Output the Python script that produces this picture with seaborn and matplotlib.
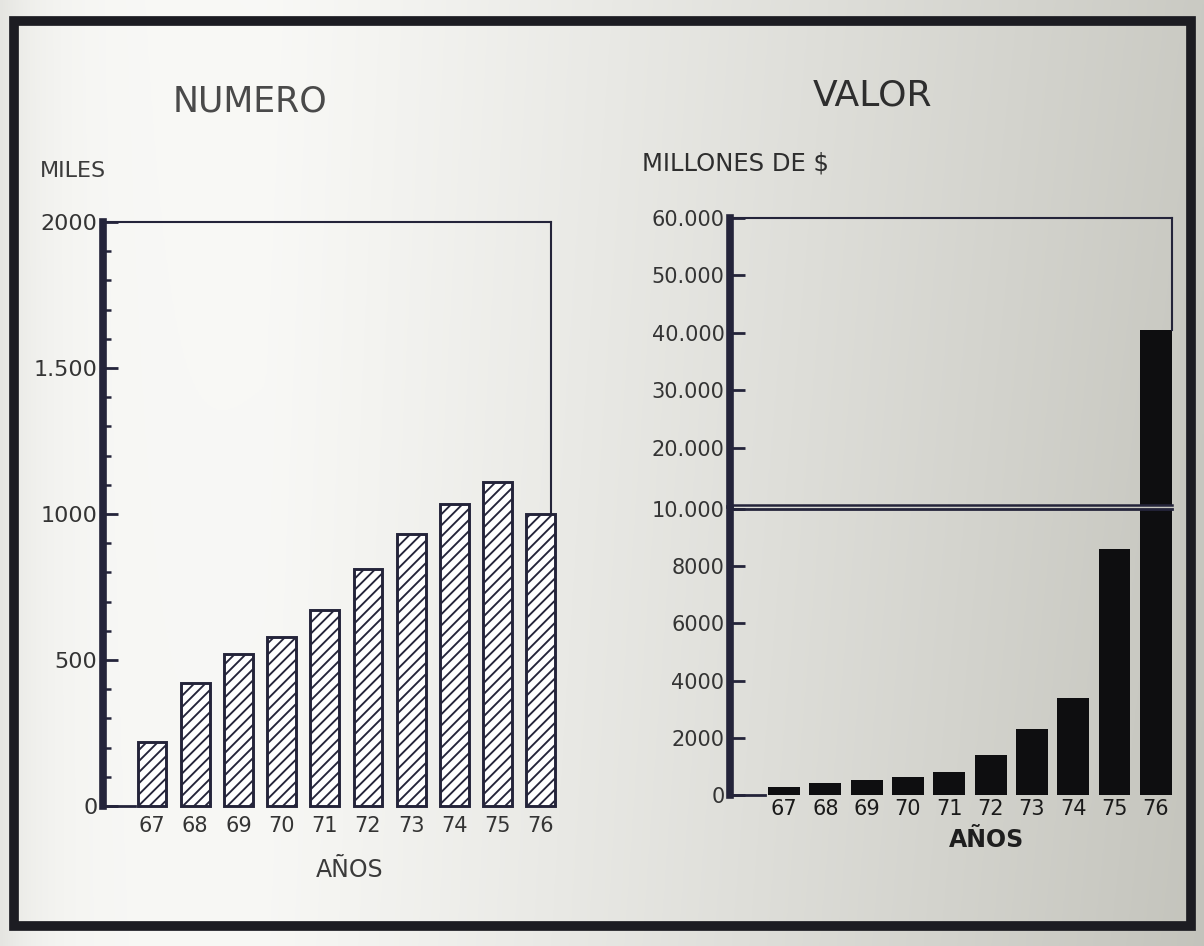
import numpy as np
import pandas as pd
import matplotlib
matplotlib.use("Agg")
import matplotlib.pyplot as plt
import seaborn as sns
from matplotlib.patches import Rectangle
from matplotlib.ticker import FixedLocator, MultipleLocator, NullLocator

# Años 1967-1976
years = ["67", "68", "69", "70", "71", "72", "73", "74", "75", "76"]
# Número (miles)
numero_miles = [220, 420, 520, 580, 670, 810, 930, 1035, 1110, 1000]
# Valor (millones de $)
valor_millones = [280, 420, 530, 640, 820, 1400, 2300, 3400, 8600, 40500]

left_ticks = [0, 500, 1000, 1500, 2000]
left_ticklabels = ["0", "500", "1000", "1.500", "2000"]
upper_ticks = [20000, 30000, 40000, 50000, 60000]
upper_ticklabels = ["20.000", "30.000", "40.000", "50.000", "60.000"]
lower_ticks = [0, 2000, 4000, 6000, 8000, 10000]
lower_ticklabels = ["0", "2000", "4000", "6000", "8000", "10.000"]

df = pd.DataFrame({"anio": years, "numero": numero_miles, "valor": valor_millones})

sns.set_theme(style="white")
plt.rcParams["font.family"] = ["DejaVu Sans"]
plt.rcParams["hatch.linewidth"] = 1.35

INK = "#24243a"
TEXT = "#343434"
W, H = 1204, 946

fig = plt.figure(figsize=(W / 100, H / 100), dpi=100)


def box(x0, y0, x1, y1):
    return [x0 / W, 1 - y1 / H, (x1 - x0) / W, (y1 - y0) / H]


# paper background: white on the left, greyer towards the right
bg = fig.add_axes([0, 0, 1, 1], zorder=-10)
gx, gy = np.meshgrid(np.linspace(0, 1, 400), np.linspace(0, 1, 320))
t = 0.85 * np.clip((gx - 0.22) / 0.78, 0, 1) ** 1.1 + 0.12 * gy * gx
t += 0.35 * np.exp(-gx / 0.035)
t = np.clip(t, 0, 1)
light = np.array([0.975, 0.975, 0.965])
dark = np.array([0.76, 0.76, 0.73])
img = light[None, None, :] * (1 - t[..., None]) + dark[None, None, :] * t[..., None]
bg.imshow(img, extent=[0, 1, 0, 1], aspect="auto", origin="upper")
bg.set_axis_off()

# page frame
fig.add_artist(Rectangle((14 / W, 1 - 926 / H), (1191 - 14) / W, (926 - 21) / H,
                         transform=fig.transFigure, fill=False, lw=7,
                         ec="#1c1c22", zorder=5))

# ---------------- NUMERO ----------------
axL = fig.add_axes(box(103, 222, 551, 806))
axL.patch.set_alpha(0)
sns.barplot(data=df, x="anio", y="numero", ax=axL, color="white", width=0.67,
            saturation=1, edgecolor=INK, linewidth=2.1)
for p in axL.patches:
    p.set_hatch("///")
    p.set_clip_on(False)
axL.set_xlim(-1.134, 9.236)
axL.set_ylim(0, 2000)
axL.set_xlabel("")
axL.set_ylabel("")
axL.spines["left"].set_linewidth(5.5)
axL.spines["left"].set_color(INK)
for s in ("top", "right"):
    axL.spines[s].set_linewidth(1.5)
    axL.spines[s].set_color(INK)
axL.spines["right"].set_bounds(numero_miles[-1], 2000)
axL.spines["bottom"].set_linewidth(2)
axL.spines["bottom"].set_color(INK)
axL.spines["bottom"].set_bounds(-1.134, -0.4)
axL.yaxis.set_major_locator(FixedLocator(left_ticks))
axL.set_yticklabels(left_ticklabels)
axL.yaxis.set_minor_locator(MultipleLocator(100))
axL.tick_params(axis="y", which="major", direction="in", length=10.5, width=2,
                color=INK, pad=4, labelsize=16, labelcolor=TEXT, left=True)
axL.tick_params(axis="y", which="minor", direction="in", length=6, width=1.8,
                color=INK, left=True)
axL.tick_params(axis="x", length=0, pad=7, labelsize=15, labelcolor=TEXT)

# ---------------- VALOR (eje cortado) ----------------
axU = fig.add_axes(box(730, 218, 1172, 505))
axB = fig.add_axes(box(730, 509, 1172, 795))
for ax in (axU, axB):
    ax.patch.set_alpha(0)
    sns.barplot(data=df, x="anio", y="valor", ax=ax, color="#0e0e10", width=0.77,
                saturation=1, linewidth=0)
    ax.set_xlim(-1.307, 9.39)
    ax.set_xlabel("")
    ax.set_ylabel("")
    ax.spines["left"].set_linewidth(5.5)
    ax.spines["left"].set_color(INK)
    for s in ("top", "right", "bottom"):
        ax.spines[s].set_color(INK)

axU.set_ylim(10000, 60000)
axU.spines["top"].set_linewidth(1.5)
axU.spines["right"].set_linewidth(1.5)
axU.spines["right"].set_bounds(valor_millones[-1], 60000)
axU.spines["bottom"].set_linewidth(1.8)
axU.yaxis.set_major_locator(FixedLocator(upper_ticks))
axU.set_yticklabels(upper_ticklabels)
axU.xaxis.set_major_locator(NullLocator())
axU.tick_params(axis="y", direction="in", length=10.5, width=2, color=INK, pad=4,
                labelsize=15, labelcolor=TEXT, left=True)

axB.set_ylim(0, 10000)
axB.spines["top"].set_linewidth(2)
axB.spines["right"].set_visible(False)
axB.spines["bottom"].set_linewidth(2)
axB.spines["bottom"].set_bounds(-1.307, -0.45)
axB.yaxis.set_major_locator(FixedLocator(lower_ticks))
axB.set_yticklabels(lower_ticklabels)
axB.tick_params(axis="y", direction="in", length=10.5, width=2, color=INK, pad=4,
                labelsize=15, labelcolor=TEXT, left=True)
axB.tick_params(axis="x", length=0, pad=3, labelsize=15, labelcolor="#1a1a1a")

# ---------------- textos ----------------
fig.text(250 / W, 1 - 102 / H, "NUMERO", ha="center", va="center", fontsize=25,
         color="#4a4a4a")
fig.text(872 / W, 1 - 96 / H, "VALOR", ha="center", va="center", fontsize=26,
         color="#2e2e2e")
fig.text(40 / W, 1 - 171 / H, "MILES", ha="left", va="center", fontsize=16,
         color="#3c3c3c")
fig.text(642 / W, 1 - 163 / H, "MILLONES DE $", ha="left", va="center",
         fontsize=17.5, color="#2e2e2e")
fig.text(350 / W, 1 - 870 / H, "AÑOS", ha="center", va="center", fontsize=17,
         color="#3a3a3a")
fig.text(987 / W, 1 - 840 / H, "AÑOS", ha="center", va="center", fontsize=17,
         color="#1e1e1e", fontweight="semibold")

fig.savefig("out.png", dpi=100)
